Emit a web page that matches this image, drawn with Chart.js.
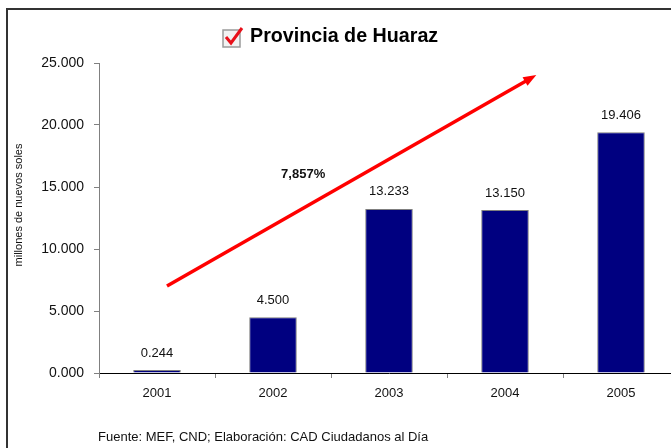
<!DOCTYPE html>
<html>
<head>
<meta charset="utf-8">
<script src="https://cdn.jsdelivr.net/npm/chart.js@4"></script>
<style>
  html, body { margin: 0; padding: 0; background: #fff; overflow: hidden; width: 671px; height: 448px; }
  canvas { display: block; }
</style>
</head>
<body>
<canvas id="chart" width="700" height="460"></canvas>
<script>
// Chart data
const years = ['2001', '2002', '2003', '2004', '2005'];
const amounts = [0.244, 4.5, 13.233, 13.15, 19.406];
const amountLabels = ['0.244', '4.500', '13.233', '13.150', '19.406'];
const yTicks = [0, 5, 10, 15, 20, 25];

// Growth arrow, in axis units (category index, value)
const arrowX = [0.086, 3.27];
const arrowY = [7.02, 24.03];
const growthLabel = '7,857%';
const growthPos = [1.26, 16.0];

const titleText = 'Provincia de Huaraz';
const yAxisTitle = 'millones de nuevos soles';
const sourceText = 'Fuente: MEF, CND; Elaboración: CAD Ciudadanos al Día';

const FONT = 'Arial, "Liberation Sans", sans-serif';

// Draws frame, title, labels and the arrow
const decorations = {
  id: 'decorations',
  beforeDraw(chart) {
    const ctx = chart.ctx;
    ctx.save();
    ctx.fillStyle = '#fff';
    ctx.fillRect(0, 0, chart.width, chart.height);
    ctx.restore();
  },
  afterDatasetsDraw(chart) {
    const ctx = chart.ctx;
    const x = chart.scales.x;
    const y = chart.scales.y;
    ctx.save();

    // value labels above bars
    ctx.fillStyle = '#111';
    ctx.font = '13px ' + FONT;
    ctx.textAlign = 'center';
    ctx.textBaseline = 'middle';
    const meta = chart.getDatasetMeta(0);
    meta.data.forEach((bar, i) => {
      ctx.fillText(amountLabels[i], bar.x, bar.y - 17);
    });

    // growth arrow
    const x0 = x.getPixelForValue(arrowX[0]);
    const y0 = y.getPixelForValue(arrowY[0]);
    const x1 = x.getPixelForValue(arrowX[1]);
    const y1 = y.getPixelForValue(arrowY[1]);
    const ang = Math.atan2(y1 - y0, x1 - x0);
    const head = 13;
    ctx.strokeStyle = '#ff0000';
    ctx.fillStyle = '#ff0000';
    ctx.lineWidth = 3.5;
    ctx.beginPath();
    ctx.moveTo(x0, y0);
    ctx.lineTo(x1 - Math.cos(ang) * head * 0.8, y1 - Math.sin(ang) * head * 0.8);
    ctx.stroke();
    ctx.beginPath();
    ctx.moveTo(x1, y1);
    ctx.lineTo(x1 - head * Math.cos(ang) + 5 * Math.sin(ang), y1 - head * Math.sin(ang) - 5 * Math.cos(ang));
    ctx.lineTo(x1 - head * Math.cos(ang) - 5 * Math.sin(ang), y1 - head * Math.sin(ang) + 5 * Math.cos(ang));
    ctx.closePath();
    ctx.fill();

    // growth percentage
    ctx.fillStyle = '#111';
    ctx.font = 'bold 13px ' + FONT;
    ctx.fillText(growthLabel, x.getPixelForValue(growthPos[0]), y.getPixelForValue(growthPos[1]));

    // title with checkbox icon
    ctx.font = 'bold 19.7px ' + FONT;
    ctx.textAlign = 'left';
    ctx.fillStyle = '#000';
    ctx.fillText(titleText, 250, 37);
    ctx.fillStyle = '#f2f2f2';
    ctx.fillRect(223, 30, 17, 17);
    ctx.strokeStyle = '#9a9a9a';
    ctx.lineWidth = 1.5;
    ctx.strokeRect(223, 30, 17, 17);
    ctx.strokeStyle = '#e8101a';
    ctx.lineWidth = 3;
    ctx.beginPath();
    ctx.moveTo(226, 37);
    ctx.lineTo(231, 43);
    ctx.lineTo(242, 28);
    ctx.stroke();

    // y axis title
    ctx.save();
    ctx.translate(19, 205);
    ctx.rotate(-Math.PI / 2);
    ctx.textAlign = 'center';
    ctx.fillStyle = '#111';
    ctx.font = '11px ' + FONT;
    ctx.fillText(yAxisTitle, 0, 0);
    ctx.restore();

    // source note
    ctx.fillStyle = '#111';
    ctx.font = '13px ' + FONT;
    ctx.textAlign = 'left';
    ctx.fillText(sourceText, 98, 437);

    // outer frame
    ctx.strokeStyle = '#333';
    ctx.lineWidth = 2;
    ctx.strokeRect(7, 9, 900, 900);

    ctx.restore();
  }
};

new Chart(document.getElementById('chart'), {
  type: 'bar',
  data: {
    labels: years,
    datasets: [{
      data: amounts,
      backgroundColor: '#000080',
      borderColor: '#7f7f7f',
      borderWidth: 1,
      categoryPercentage: 1,
      barPercentage: 0.41
    }]
  },
  options: {
    responsive: false,
    animation: false,
    layout: { padding: { left: 0, top: 63, right: 21, bottom: 57 } },
    plugins: {
      legend: { display: false },
      tooltip: { enabled: false }
    },
    scales: {
      x: {
        afterFit: (scale) => { scale.height = 30; },
        grid: {
          display: true,
          drawOnChartArea: false,
          tickLength: 5,
          color: '#808080'
        },
        border: { color: '#000', width: 1 },
        ticks: {
          color: '#111',
          font: { family: FONT, size: 13 },
          padding: 8
        }
      },
      y: {
        min: 0,
        max: 25,
        afterFit: (scale) => { scale.width = 99; },
        afterBuildTicks: (scale) => { scale.ticks = yTicks.map(v => ({ value: v })); },
        grid: {
          display: true,
          drawOnChartArea: false,
          tickLength: 5,
          color: '#808080'
        },
        border: { color: '#808080', width: 1 },
        ticks: {
          color: '#111',
          font: { family: FONT, size: 14 },
          padding: 10,
          callback: (v) => Number(v).toFixed(3)
        }
      }
    }
  },
  plugins: [decorations]
});
</script>
</body>
</html>
